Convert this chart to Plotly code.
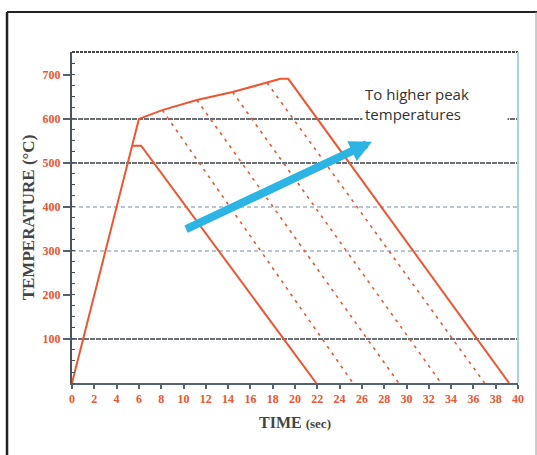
import plotly.graph_objects as go

# ---- data ----
main_t = [0, 6.0, 8.1, 11.2, 14.4, 17.5, 18.7, 19.4, 39.2]
main_T = [0, 600, 620, 643, 661, 682, 691, 691, 0]

low_t = [5.4, 6.2, 21.9]
low_T = [539, 539, 0]

dash_start_t = [8.1, 11.2, 14.4, 17.5]
dash_start_T = [620, 643, 661, 682]
dash_end_t = [25.2, 29.3, 33.1, 37.0]

x_ticks = list(range(0, 41, 2))
y_ticks = [100, 200, 300, 400, 500, 600, 700]
dark_grid = [100, 500, 600]
light_grid = [300, 400]

arrow_tail = (10.1, 348)
arrow_tip = (26.9, 548)

RED = "#ee5530"
SERIF = "Liberation Serif, DejaVu Serif, serif"

fig = go.Figure()

for g in dark_grid:
    fig.add_trace(go.Scatter(x=[0, 40], y=[g, g], mode="lines",
                             line=dict(color="#6a7075", width=2, dash="5px,1px"),
                             hoverinfo="skip", showlegend=False))
for g in light_grid:
    fig.add_trace(go.Scatter(x=[0, 40], y=[g, g], mode="lines",
                             line=dict(color="#a3b4c2", width=1.5, dash="4px,3px"),
                             hoverinfo="skip", showlegend=False))

for st, sT, et in zip(dash_start_t, dash_start_T, dash_end_t):
    fig.add_trace(go.Scatter(x=[st, et], y=[sT, 0], mode="lines",
                             line=dict(color=RED, width=1.6, dash="3px,5px"),
                             hoverinfo="skip", showlegend=False))

fig.add_trace(go.Scatter(x=main_t, y=main_T, mode="lines",
                         line=dict(color=RED, width=2), showlegend=False))
fig.add_trace(go.Scatter(x=low_t, y=low_T, mode="lines",
                         line=dict(color=RED, width=2), showlegend=False))

fig.add_annotation(x=arrow_tip[0], y=arrow_tip[1], ax=arrow_tail[0], ay=arrow_tail[1],
                   xref="x", yref="y", axref="x", ayref="y", text="",
                   showarrow=True, arrowhead=2, arrowsize=0.55, arrowwidth=8,
                   arrowcolor="#2bb4e4", standoff=0, startstandoff=0)

fig.add_annotation(x=26.0, y=634, xref="x", yref="y", xanchor="left", yanchor="middle",
                   text="To higher peak<br>temperatures", showarrow=False, align="left",
                   font=dict(family="Open Sans, Liberation Sans, sans-serif", size=15, color="#333333"),
                   bgcolor="white", borderpad=2, width=140)

# outer frame
fig.add_shape(type="line", xref="paper", yref="paper", x0=-0.1457, x1=1.05, y0=1.1208, y1=1.1208,
              line=dict(color="#222222", width=2))
fig.add_shape(type="line", xref="paper", yref="paper", x0=-0.1457, x1=-0.1457, y0=-0.3, y1=1.1208,
              line=dict(color="#222222", width=2.5))
fig.add_shape(type="line", xref="paper", yref="paper", x0=1.0404, x1=1.0404, y0=-0.3, y1=1.1208,
              line=dict(color="#999999", width=1))
fig.add_shape(type="line", xref="paper", yref="paper", x0=0, x1=1, y0=1, y1=1,
              line=dict(color="#444444", width=2, dash="3px,1px"))
fig.add_shape(type="line", xref="paper", yref="paper", x0=1, x1=1, y0=0, y1=1,
              line=dict(color="#a8d0e6", width=2))

fig.update_layout(
    width=537, height=455,
    margin=dict(l=72, r=19, t=52, b=72),
    paper_bgcolor="white", plot_bgcolor="white",
    xaxis=dict(range=[0, 40], tickvals=x_ticks, ticktext=["<b>%d</b>" % v for v in x_ticks],
               showgrid=False, zeroline=False, showline=True,
               linecolor="#556270", linewidth=1.5,
               ticks="outside", ticklen=4, tickwidth=2, tickcolor="#556270",
               tickfont=dict(family=SERIF, size=12, color=RED),
               title=dict(text="<b>TIME</b> <span style='font-size:13px'><b>(sec)</b></span>",
                          font=dict(family=SERIF, size=16, color="#444444"), standoff=12)),
    yaxis=dict(range=[0, 752], tickvals=y_ticks, ticktext=["<b>%d</b>" % v for v in y_ticks],
               showgrid=False, zeroline=False, showline=True,
               linecolor="#4a525a", linewidth=2,
               ticks="outside", ticklen=7, tickwidth=2, tickcolor="#556270",
               minor=dict(dtick=25, ticks="inside", ticklen=3, tickcolor="#4a525a", tickwidth=1),
               tickfont=dict(family=SERIF, size=12, color=RED),
               title=dict(text="<b>TEMPERATURE (°C)</b>",
                          font=dict(family=SERIF, size=17, color="#444444"), standoff=4)),
)

fig.write_html("out.html", post_script="document.body.style.margin='0px';",
               config={"displayModeBar": False})
